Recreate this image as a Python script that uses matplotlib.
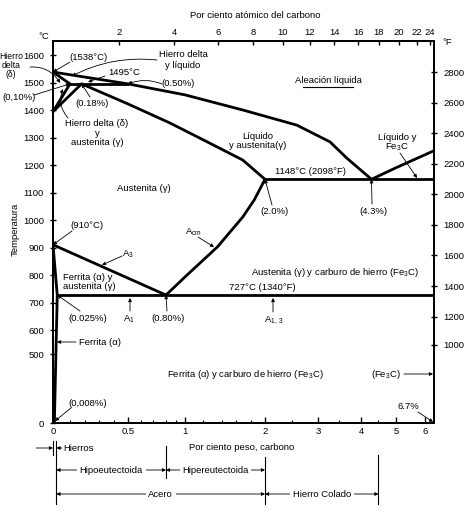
import numpy as np
import matplotlib
matplotlib.use("Agg")
import matplotlib.pyplot as plt
import matplotlib.transforms as mtransforms

plt.rcParams['font.family'] = ['Liberation Sans', 'DejaVu Sans']
plt.rcParams['mathtext.default'] = 'regular'
FS = 6.8

# Fe-Fe3C phase boundaries (wt% C, deg C)
liquidus_wt = [0.0, 0.5, 1.0, 1.69, 2.6, 3.28, 3.67, 4.3]
liquidus_T = [1538, 1495, 1455, 1400, 1345, 1284, 1225, 1148]
liquidus_fe3c_wt = [4.3, 5.0, 6.7]
liquidus_fe3c_T = [1148, 1190, 1252]
solidus_wt = [0.18, 0.5, 0.84, 1.2, 1.69, 2.0]
solidus_T = [1495, 1422, 1353, 1291, 1218, 1148]
acm_wt = [0.8, 1.0, 1.35, 1.69, 1.85, 2.0]
acm_T = [727, 793, 902, 1011, 1073, 1148]
a3_wt = [0.0, 0.8]
a3_T = [910, 727]
delta_wt = [0.0, 0.10, 0.0]
delta_T = [1538, 1495, 1394]
delta_gamma_wt = [0.18, 0.0]
delta_gamma_T = [1495, 1394]
ferrite_wt = [0.0, 0.025, 0.008]
ferrite_T = [910, 727, 0]
peritectic_wt = [0.10, 0.50]
peritectic_T = 1495
eutectic_wt = [2.0, 6.7]
eutectic_T = 1148
eutectoid_wt = [0.025, 6.7]
eutectoid_T = 727

wt_ticks = [0, 0.5, 1, 2, 3, 4, 5, 6]
wt_labels = ['0', '0.5', '1', '2', '3', '4', '5', '6']
wt_minor = [0.1, 0.2, 0.3, 0.4, 0.6, 0.7, 0.8, 0.9, 1.2, 1.4, 1.6, 1.8, 2.5, 3.5, 4.5]
at_ticks = [2, 4, 6, 8, 10, 12, 14, 16, 18, 20, 22, 24]
C_ticks = [0, 500, 600, 700, 800, 900, 1000, 1100, 1200, 1300, 1400, 1500, 1600]
F_ticks = [1000, 1200, 1400, 1600, 1800, 2000, 2200, 2400, 2600, 2800]

# the original drawing stretches the low-carbon end and squeezes 0-500 C
x_knots = [-1, 0, 0.1, 0.5, 0.8, 1, 1.4, 2, 3, 4, 5, 6, 6.7, 8]
x_len = [-150, 0, 17, 75, 113, 132, 169, 212, 265, 308, 343, 372, 381, 396]
y_knots = [-500, 0, 500, 600, 1600, 2500]
y_len = [-69, 0, 69, 93, 368, 615.5]


def fwd_x(v):
    return np.interp(v, x_knots, x_len)


def inv_x(v):
    return np.interp(v, x_len, x_knots)


def fwd_y(v):
    return np.interp(v, y_knots, y_len)


def inv_y(v):
    return np.interp(v, y_len, y_knots)


# axes box in pixels of the 474x511 picture
L, R, B, T = 53, 434, 423, 41
fig = plt.figure(figsize=(4.74, 5.11), dpi=100)
ax = fig.add_axes([L / 474, (511 - B) / 511, (R - L) / 474, (B - T) / 511])
ax.set_xscale('function', functions=(fwd_x, inv_x))
ax.set_yscale('function', functions=(fwd_y, inv_y))
ax.set_xlim(0, 6.7)
ax.set_ylim(0, float(inv_y(B - T)))


def P(x, y):
    return ((x - L) / (R - L), (B - y) / (B - T))


lw = 2.0
kw = dict(color='black', lw=lw, solid_capstyle='round', solid_joinstyle='round')
ax.plot(liquidus_wt, liquidus_T, **kw)
ax.plot(liquidus_fe3c_wt, liquidus_fe3c_T, **kw)
ax.plot(solidus_wt, solidus_T, **kw)
ax.plot(acm_wt, acm_T, **kw)
ax.plot(a3_wt, a3_T, **kw)
ax.plot(delta_wt, delta_T, **kw)
ax.plot(delta_gamma_wt, delta_gamma_T, **kw)
ax.plot(ferrite_wt, ferrite_T, **kw)
ax.plot(peritectic_wt, [peritectic_T] * 2, **kw)
ax.plot(eutectic_wt, [eutectic_T] * 2, **kw)
ax.plot(eutectoid_wt, [eutectoid_T] * 2, **kw)

for s in ax.spines.values():
    s.set_linewidth(1.3)

ax.set_xticks(wt_ticks)
ax.set_xticklabels(wt_labels)
ax.set_xticks(wt_minor, minor=True)
ax.set_yticks(C_ticks)
ax.set_yticklabels([str(c) for c in C_ticks])
ax.yaxis.set_minor_locator(matplotlib.ticker.NullLocator())
ax.tick_params(axis='x', which='major', direction='in', length=4, width=1, labelsize=FS, pad=3)
ax.tick_params(axis='x', which='minor', direction='in', length=2.5, width=0.8)
ax.tick_params(axis='y', direction='inout', length=5, width=1, labelsize=FS, pad=4)

# atomic percent along the top
ax_top = ax.twiny()
ax_top.set_xscale('function', functions=(fwd_x, inv_x))
ax_top.set_xlim(0, 6.7)
at_wt = [a * 12.011 / (a * 12.011 + (100 - a) * 55.845) * 100 for a in at_ticks]
ax_top.set_xticks(at_wt)
ax_top.set_xticklabels([str(a) for a in at_ticks])
ax_top.xaxis.set_minor_locator(matplotlib.ticker.NullLocator())
ax_top.tick_params(axis='x', direction='in', length=3, width=1, labelsize=FS, pad=3)

# Fahrenheit on the right
ax_r = ax.twinx()
ax_r.set_yscale('function', functions=(fwd_y, inv_y))
ax_r.set_ylim(ax.get_ylim())
ax_r.set_yticks([(f - 32) * 5 / 9 for f in F_ticks])
ax_r.set_yticklabels([str(f) for f in F_ticks])
ax_r.yaxis.set_minor_locator(matplotlib.ticker.NullLocator())
ax_r.tick_params(axis='y', direction='inout', length=5, width=1, labelsize=FS, pad=4)
for a in (ax_top, ax_r):
    for s in a.spines.values():
        s.set_linewidth(1.3)


def label(x, y, s, ha='center', **k):
    k.setdefault('fontsize', FS)
    ax.text(*P(x, y), s, transform=ax.transAxes, ha=ha, va='center',
            clip_on=False, **k)


def arrow(tail, head, data=False, rad=0.0):
    ax.annotate('', xy=head if data else P(*head),
                xycoords='data' if data else 'axes fraction',
                xytext=P(*tail), textcoords='axes fraction',
                arrowprops=dict(arrowstyle='-|>', lw=0.6, color='black',
                                mutation_scale=5, shrinkA=0, shrinkB=0,
                                connectionstyle=f'arc3,rad={rad}'),
                annotation_clip=False)


label(255, 15, 'Por ciento atómico del carbono')
label(44, 36, '°C')
label(447, 42, '°F')
label(15, 229, 'Temperatura', rotation=90)
label(242, 447, 'Por ciento peso, carbono')

label(11, 65, 'Hierro\ndelta\n(δ)', linespacing=1.0, fontsize=6.2)
arrow((30, 67), (60, 83), rad=-0.3)
label(88, 57, '(1538°C)')
arrow((70, 62), (0, 1538), data=True)
label(183, 60, 'Hierro delta\ny líquido', linespacing=1.15)
arrow((157, 60), (72, 76), rad=0.15)
label(124, 72, '1495°C')
arrow((105, 76), (88, 82))
label(178, 83, '(0.50%)')
arrow((162, 84), (0.5, 1495), data=True, rad=0.2)
label(19, 97, '(0,10%)')
arrow((34, 95), (0.1, 1495), data=True)
label(92, 103, '(0.18%)')
arrow((90, 97), (0.18, 1495), data=True)
label(97, 133, 'Hierro delta (δ)\ny\naustenita (γ)', linespacing=1.05)
arrow((68, 118), (63, 89), rad=-0.3)

label(328, 80, 'Aleación líquida')
ax.plot([P(303, 87)[0], P(353, 87)[0]], [P(303, 87)[1]] * 2, color='black',
        lw=0.8, transform=ax.transAxes)
label(258, 141, 'Líquido\ny austenita(γ)', linespacing=1.05)
label(397, 143, 'Líquido y\nFe$_3$C', linespacing=1.05)
arrow((400, 153), (417, 178))

label(144, 188, 'Austenita (γ)')
label(311, 171, '1148°C (2098°F)')
label(275, 211, '(2.0%)')
arrow((272, 205), (2.0, 1148), data=True)
label(373, 211, '(4.3%)')
arrow((372, 204), (4.3, 1148), data=True)

label(87, 225, '(910°C)')
arrow((72, 231), (0, 910), data=True)
label(128, 254, 'A$_3$')
arrow((122, 256), (102, 265))
label(193, 232, 'A$_{cm}$')
arrow((198, 237), (214, 247))
label(63, 282, 'Ferrita (α) y\naustenita (γ)', ha='left', linespacing=1.05)
label(262, 287, '727°C (1340°F)')
label(335, 272, 'Austenita (γ) y carburo de hierro (Fe$_3$C)')

label(88, 318, '(0.025%)')
arrow((80, 311), (0.025, 727), data=True)
label(129, 319, 'A$_1$')
arrow((130, 311), (130, 298))
label(168, 318, '(0.80%)')
arrow((167, 311), (0.8, 727), data=True)
label(274, 320, 'A$_{1,\\,3}$')
arrow((273, 312), (273, 298))

label(100, 342, 'Ferrita (α)')
arrow((76, 342), (57, 342))
label(245, 374, 'Ferrita (α) y carburo de hierro (Fe$_3$C)')
label(386, 374, '(Fe$_3$C)')
arrow((404, 374), (433, 374))
label(88, 403, '(0,008%)')
arrow((71, 408), (55, 421))
label(408, 406, '6.7%')
arrow((418, 412), (433, 422))

# steel / cast iron ranges under the axis
trans = mtransforms.blended_transform_factory(ax.transData, ax.transAxes)


def yf(py):
    return (B - py) / (B - T)


for x, y0, y1 in [(0, 441, 455), (0.02, 441, 504), (0.8, 446, 478),
                  (2.0, 457, 504), (4.5, 455, 504)]:
    ax.plot([x, x], [yf(y0), yf(y1)], color='black', lw=0.8,
            transform=trans, clip_on=False)

ap = dict(arrowstyle='-|>', lw=0.6, color='black', mutation_scale=5, shrinkA=0, shrinkB=0)
ax.annotate('', xy=(0, yf(448)), xycoords=trans, xytext=P(36, 448),
            textcoords='axes fraction', arrowprops=ap, annotation_clip=False)
ax.annotate('', xy=(0.02, yf(448)), xycoords=trans, xytext=P(62, 448),
            textcoords='axes fraction', arrowprops=ap, annotation_clip=False)
label(63, 448, 'Hierros', ha='left')


def span(a, b, py, s):
    y = yf(py)
    ax.annotate('', xy=(a, y), xytext=(b, y), xycoords=trans, textcoords=trans,
                arrowprops=dict(ap, arrowstyle='<|-|>'), annotation_clip=False)
    mid = float(inv_x((fwd_x(a) + fwd_x(b)) / 2))
    ax.text(mid, y, s, transform=trans, ha='center', va='center', fontsize=FS,
            bbox=dict(fc='white', ec='none', pad=2), clip_on=False)


span(0.02, 0.8, 470, 'Hipoeutectoida')
span(0.8, 2.0, 470, 'Hipereutectoida')
span(0.02, 2.0, 494, 'Acero')
span(2.0, 4.5, 494, 'Hierro Colado')

fig.savefig('out.png', dpi=100, facecolor='white')
